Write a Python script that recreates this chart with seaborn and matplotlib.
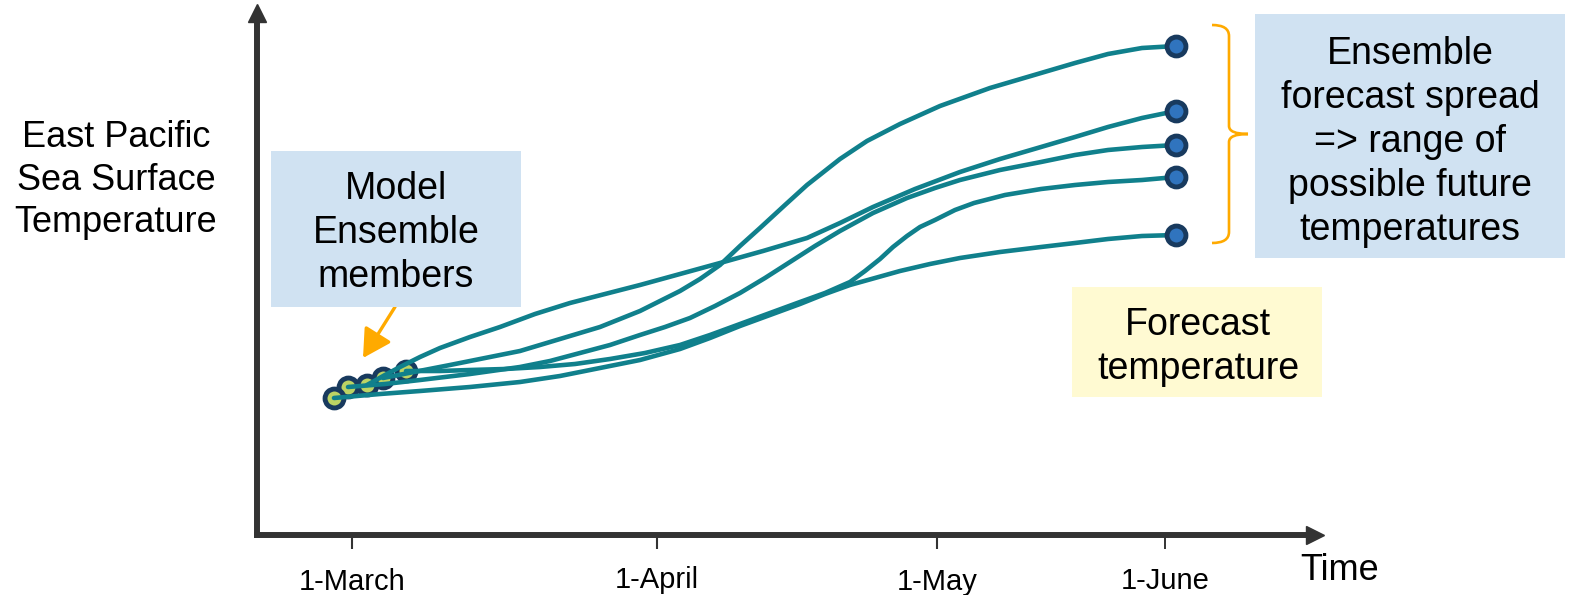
import matplotlib
matplotlib.use("Agg")
import matplotlib.pyplot as plt
import numpy as np
import pandas as pd
import seaborn as sns
from matplotlib.patches import Rectangle, PathPatch
from matplotlib.path import Path

# ---- ensemble members: time (arbitrary forecast units) and SST (arbitrary units)
member_1_time = [12.6, 19.3, 26.3, 30.3, 34.3, 38.3, 42.3, 44.3, 46.3, 48.3, 50.3, 52.8,
                 55.0, 58.3, 61.0, 64.3, 68.3, 73.3, 78.4, 81.8, 85.1, 88.5, 91.9]
member_1_sst = [15.7, 17.0, 18.4, 19.6, 20.8, 22.4, 24.4, 25.6, 27.0, 28.9, 30.7, 33.0,
                35.0, 37.6, 39.4, 41.1, 42.9, 44.7, 46.2, 47.2, 48.1, 48.7, 48.9]

member_2_time = [11.0, 12.8, 14.3, 16.3, 18.3, 21.3, 24.3, 27.8, 31.3, 34.8, 38.3, 42.3, 46.3,
                 50.6, 55.0, 58.3, 61.6, 65.8, 70.3, 74.3, 78.4, 81.8, 85.1, 88.5, 91.9]
member_2_sst = [15.0, 16.0, 16.8, 17.8, 18.7, 19.8, 20.8, 22.1, 23.2, 24.1, 25.0, 26.1, 27.2,
                28.4, 29.7, 31.2, 32.8, 34.6, 36.3, 37.6, 38.8, 39.8, 40.8, 41.7, 42.4]

member_3_time = [9.1, 12.8, 16.3, 21.3, 26.3, 29.3, 32.3, 35.3, 38.3, 40.8, 43.3, 45.8, 48.3, 50.8,
                 53.3, 55.8, 58.3, 61.6, 65.0, 67.8, 70.3, 74.3, 78.4, 81.8, 85.1, 88.5, 91.9]
member_3_sst = [14.8, 15.1, 15.5, 16.1, 16.8, 17.4, 18.2, 19.0, 20.0, 20.8, 21.7, 22.9, 24.2, 25.7,
                27.3, 28.9, 30.4, 32.2, 33.7, 34.7, 35.5, 36.5, 37.3, 38.0, 38.5, 38.8, 39.0]

member_4_time = [14.9, 18.3, 21.3, 24.8, 28.3, 31.8, 35.3, 38.8, 42.3, 45.3, 48.3, 51.3, 54.3, 56.8,
                 59.3, 60.8, 62.3, 63.6, 65.0, 66.3, 67.8, 69.8, 71.7, 74.8, 78.4, 81.8, 85.1, 88.5, 91.9]
member_4_sst = [16.4, 16.4, 16.5, 16.6, 16.8, 17.1, 17.6, 18.2, 19.0, 20.0, 21.1, 22.2, 23.3, 24.2,
                25.3, 26.4, 27.6, 28.8, 29.9, 30.8, 31.5, 32.5, 33.2, 34.0, 34.6, 35.0, 35.3, 35.5, 35.8]

member_5_time = [7.7, 12.3, 16.3, 21.3, 26.3, 30.3, 34.3, 38.3, 42.3, 45.3, 48.3, 51.3, 54.3,
                 56.8, 59.3, 61.8, 64.3, 67.3, 70.3, 74.3, 78.4, 81.8, 85.1, 88.5, 91.9]
member_5_sst = [13.7, 14.1, 14.4, 14.8, 15.3, 15.9, 16.7, 17.5, 18.6, 19.7, 20.9, 22.0, 23.1,
                24.1, 25.0, 25.7, 26.4, 27.1, 27.7, 28.3, 28.8, 29.2, 29.6, 29.9, 30.0]

month_ticks = [9.5, 40.0, 68.0, 90.8]
month_labels = ["1-March", "1-April", "1-May", "1-June"]

members = {
    "member 1": (member_1_time, member_1_sst),
    "member 2": (member_2_time, member_2_sst),
    "member 3": (member_3_time, member_3_sst),
    "member 4": (member_4_time, member_4_sst),
    "member 5": (member_5_time, member_5_sst),
}
df = pd.concat(
    [pd.DataFrame({"member": name, "time": t, "sst": s}) for name, (t, s) in members.items()],
    ignore_index=True,
)
starts = df.groupby("member", sort=False).first().reset_index()
ends = df.groupby("member", sort=False).last().reset_index()

# ---- style
TEAL = "#10808c"
NAVY = "#183a5e"
GREEN = "#bcd464"
BLUE = "#3074be"
AXIS = "#333333"
ORANGE = "#ffaa00"
LIGHT_BLUE = "#d0e2f2"
LIGHT_YELLOW = "#fffad2"

sns.set_style("white")
plt.rcParams["font.family"] = ["Liberation Sans", "DejaVu Sans"]
plt.rcParams["text.color"] = "black"
plt.rcParams["axes.labelcolor"] = "black"

W, H = 1569, 595
fig = plt.figure(figsize=(W / 100, H / 100), dpi=100)


def fx(px):
    return px / W


def fy(py):
    return 1 - py / H


ax = fig.add_axes([fx(257), fy(535), (1315 - 257) / W, (535 - 13) / H])
ax.set_xlim(0, 105.8)
ax.set_ylim(0, 52.2)
ax.patch.set_alpha(0)

sns.lineplot(data=df, x="time", y="sst", units="member", estimator=None, sort=False,
             color=TEAL, lw=3.3, ax=ax, legend=False, zorder=3,
             solid_joinstyle="round", solid_capstyle="round")
sns.scatterplot(data=starts, x="time", y="sst", s=185, color=GREEN, edgecolor=NAVY,
                linewidth=3.5, ax=ax, zorder=2, clip_on=False)
sns.scatterplot(data=ends, x="time", y="sst", s=185, color=BLUE, edgecolor=NAVY,
                linewidth=3.5, ax=ax, zorder=4, clip_on=False)

# ---- axes with arrowheads
sns.despine(ax=ax)
for side in ("left", "bottom"):
    ax.spines[side].set_linewidth(4.3)
    ax.spines[side].set_color(AXIS)
    ax.spines[side].set_capstyle("projecting")
ax.plot(1, 0, marker=">", ms=13, color=AXIS, transform=ax.get_yaxis_transform(), clip_on=False)
ax.plot(0, 1, marker="^", ms=13, color=AXIS, transform=ax.get_xaxis_transform(), clip_on=False)

ax.set_yticks([])
ax.set_xticks(month_ticks, month_labels)
ax.tick_params(axis="x", bottom=True, direction="out", length=10, width=1.5, color=AXIS,
               labelsize=21, labelcolor="black")
tick_len = [11, 9.5, 14, 21.5]
tick_pad = [14, 12, 14, 13]
for tick, ln, pd_ in zip(ax.xaxis.get_major_ticks(), tick_len, tick_pad):
    tick.tick1line.set_markersize(ln)
    tick.set_pad(pd_)
last = ax.xaxis.get_major_ticks()[-1]
last.tick1line.set_color(NAVY)
last.tick1line.set_markeredgewidth(1.4)

ax.set_xlabel("Time", fontsize=26)
ax.xaxis.set_label_coords((1340 - 257) / 1058, (535 - 571) / 522)
ax.xaxis.label.set_va("center")
ax.set_ylabel("East Pacific\nSea Surface\nTemperature", rotation=0, fontsize=26,
              ha="center", va="center", multialignment="center", linespacing=1.28)
ax.yaxis.set_label_coords((116 - 257) / 1058, (535 - 180) / 522)

# ---- annotation boxes
def box(x0, y0, x1, y1, color, text, cx, cy):
    fig.patches.append(Rectangle((fx(x0), fy(y1)), (x1 - x0) / W, (y1 - y0) / H,
                                 transform=fig.transFigure, facecolor=color,
                                 edgecolor="none", zorder=1))
    fig.text(fx(cx), fy(cy), text, ha="center", va="center", fontsize=27,
             linespacing=1.28, zorder=5)


box(271, 151, 521, 307, LIGHT_BLUE, "Model\nEnsemble\nmembers", 396, 233)
box(1255, 14, 1565, 258, LIGHT_BLUE,
    "Ensemble\nforecast spread\n=> range of\npossible future\ntemperatures", 1410, 142)
box(1072, 287, 1322, 397, LIGHT_YELLOW, "Forecast\ntemperature", 1198, 347)

# arrow pointing at the ensemble starting points
ax.annotate("", xy=(363, H - 358), xycoords="figure pixels",
            xytext=(395, H - 307), textcoords="figure pixels",
            arrowprops=dict(arrowstyle="-|>,head_length=0.9,head_width=0.5",
                            color=ORANGE, lw=2.4, mutation_scale=19,
                            shrinkA=0, shrinkB=0))

# curly brace spanning the ensemble end values
brace_pts = [(1212, 25), (1229, 25), (1229, 36), (1229, 126), (1229, 134), (1248, 134),
             (1229, 134), (1229, 142), (1229, 232), (1229, 243), (1212, 243)]
codes = [Path.MOVETO, Path.CURVE3, Path.CURVE3, Path.LINETO, Path.CURVE3, Path.CURVE3,
         Path.CURVE3, Path.CURVE3, Path.LINETO, Path.CURVE3, Path.CURVE3]
verts = [(fx(x), fy(y)) for x, y in brace_pts]
fig.patches.append(PathPatch(Path(verts, codes), transform=fig.transFigure,
                             facecolor="none", edgecolor=ORANGE, lw=1.9, zorder=5))

fig.savefig("out.png", dpi=100)
